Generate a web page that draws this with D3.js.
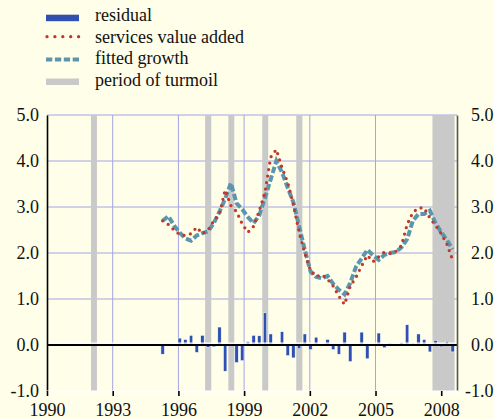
<!DOCTYPE html>
<html>
<head>
<meta charset="utf-8">
<script src="https://cdn.jsdelivr.net/npm/d3@7"></script>
<style>
  body { margin: 0; background: #fefee9; }
  text { font-family: "Liberation Serif", "Times New Roman", serif; }
</style>
</head>
<body>
<div id="chart"></div>
<script>
// ------------------------------------------------------------------------ //
// DATA
// ------------------------------------------------------------------------ //

// quarterly observations, 1995Q1 - 2007Q4
var quarters = d3.range(1995, 2008).flatMap(function(yr) {
  return [1, 2, 3, 4].map(function(q) { return yr + "Q" + q })
})

var residual = [-0.20, 0.00, -0.02, 0.15, 0.12, 0.21, -0.16, 0.21, -0.05, -0.04,
  0.39, -0.57, 0.00, -0.38, -0.34, 0.07, 0.21, 0.20, 0.70, 0.24,
  0.00, 0.29, -0.23, -0.28, -0.08, 0.24, -0.10, 0.17, 0.00, 0.12,
  -0.10, -0.20, 0.28, -0.36, 0.00, 0.28, -0.30, 0.00, 0.26, -0.06,
  0.04, 0.01, 0.05, 0.44, 0.04, 0.24, 0.12, -0.15, 0.10, -0.04,
  0.08, -0.15]

var servicesValueAdded = [2.70, 2.62, 2.50, 2.40, 2.38, 2.42, 2.56, 2.42, 2.50, 2.70,
  2.85, 3.37, 3.03, 2.90, 2.63, 2.45, 2.58, 2.92, 3.32, 4.08,
  4.25, 3.85, 3.53, 3.05, 2.45, 2.00, 1.62, 1.49, 1.53, 1.43,
  1.28, 1.06, 0.88, 1.28, 1.47, 1.72, 1.95, 1.81, 1.92, 2.02,
  1.99, 2.03, 2.16, 2.62, 2.88, 2.98, 2.98, 2.76, 2.60, 2.42,
  2.19, 1.85]

var fittedGrowth = [2.70, 2.80, 2.60, 2.44, 2.32, 2.27, 2.38, 2.43, 2.47, 2.65,
  2.90, 3.18, 3.52, 3.08, 2.95, 2.78, 2.65, 2.82, 3.20, 3.60,
  4.00, 3.75, 3.42, 3.10, 2.58, 2.07, 1.60, 1.48, 1.45, 1.50,
  1.33, 1.20, 1.10, 1.35, 1.70, 1.88, 2.07, 1.95, 1.85, 1.96,
  2.00, 2.02, 2.12, 2.30, 2.70, 2.85, 2.85, 2.92, 2.65, 2.45,
  2.28, 2.08]

// periods of turmoil (start, end) in years
var turmoil = [[1992.01, 1992.28], [1997.22, 1997.50], [1998.28, 1998.55],
  [1999.83, 2000.10], [2001.38, 2001.66], [2007.60, 2008.61]]

var yearTicks = [1990, 1993, 1996, 1999, 2002, 2005, 2008]
var valueTicks = [-1, 0, 1, 2, 3, 4, 5]
var gridValues = [1, 2, 3, 4, 5]
var gridYears = [1993, 1996, 1999, 2002, 2005]

// ------------------------------------------------------------------------ //
// SVG AREA
// ------------------------------------------------------------------------ //

var width = 494, height = 419
var bg = "#fefee9"

var svg = d3.select("#chart")
  .append("svg")
    .attr("width", width)
    .attr("height", height)

svg.append("rect")
  .attr("width", width)
  .attr("height", height)
  .attr("fill", bg)

// ------------------------------------------------------------------------ //
// SCALES
// ------------------------------------------------------------------------ //

var x = d3.scaleLinear()
  .domain([1990, 2008.72])
  .range([47, 457])

var y = d3.scaleLinear()
  .domain([-1, 5])
  .range([391, 115])

// the observations sit on their own category axis in the original chart
var xq = d3.scalePoint()
  .domain(quarters)
  .range([x(1995.28), x(2008.52)])

var blue = "#2f50b0", red = "#c0392b", teal = "#5b96ae", grey = "#c9c9c9"

// ------------------------------------------------------------------------ //
// GRID AND TURMOIL BANDS
// ------------------------------------------------------------------------ //

svg.append("g").selectAll("line")
  .data(gridValues)
  .join("line")
    .attr("x1", x.range()[0])
    .attr("x2", x.range()[1])
    .attr("y1", function(d) { return y(d) })
    .attr("y2", function(d) { return y(d) })
    .style("stroke", "#a4a4e4")
    .style("stroke-width", 1)

svg.append("g").selectAll("line")
  .data(gridYears)
  .join("line")
    .attr("x1", function(d) { return x(d) })
    .attr("x2", function(d) { return x(d) })
    .attr("y1", y(5))
    .attr("y2", y(-1))
    .style("stroke", "#a4a4e4")
    .style("stroke-width", 1)

svg.append("g").selectAll("rect")
  .data(turmoil)
  .join("rect")
    .attr("x", function(d) { return x(d[0]) })
    .attr("width", function(d) { return x(d[1]) - x(d[0]) })
    .attr("y", y(5))
    .attr("height", y(-1) - y(5))
    .attr("fill", grey)

// ------------------------------------------------------------------------ //
// RESIDUAL BARS
// ------------------------------------------------------------------------ //

svg.append("g").selectAll("rect")
  .data(residual)
  .join("rect")
    .attr("x", function(d, i) { return xq(quarters[i]) - 1.7 })
    .attr("width", 3.4)
    .attr("y", function(d) { return y(Math.max(0, d)) })
    .attr("height", function(d) { return Math.abs(y(d) - y(0)) })
    .attr("fill", blue)
    .style("stroke", "#ffffff")
    .style("stroke-width", 0.5)

// zero line
svg.append("line")
  .attr("x1", x.range()[0]).attr("x2", x.range()[1])
  .attr("y1", y(0) - 1.8).attr("y2", y(0) - 1.8)
  .style("stroke", "#ffffff").style("stroke-width", 1.2)
svg.append("line")
  .attr("x1", x.range()[0]).attr("x2", x.range()[1])
  .attr("y1", y(0)).attr("y2", y(0))
  .style("stroke", "#000").style("stroke-width", 2)

// ------------------------------------------------------------------------ //
// LINES
// ------------------------------------------------------------------------ //

var line = d3.line()
  .x(function(d, i) { return xq(quarters[i]) })
  .y(function(d) { return y(d) })

svg.append("path")
  .datum(fittedGrowth)
  .attr("d", line)
  .attr("fill", "none")
  .style("stroke", teal)
  .style("stroke-width", 4)
  .style("stroke-dasharray", "6.5 2.5")

svg.append("path")
  .datum(servicesValueAdded)
  .attr("d", line)
  .attr("fill", "none")
  .style("stroke", red)
  .style("stroke-width", 3.3)
  .style("stroke-linecap", "round")
  .style("stroke-dasharray", "0 6.6")

// ------------------------------------------------------------------------ //
// AXES
// ------------------------------------------------------------------------ //

var fmt = function(d) { return d.toFixed(1) }

var yLeft = svg.append("g")
  .attr("transform", "translate(" + x.range()[0] + ",0)")
  .call(d3.axisLeft(y).tickValues(valueTicks).tickFormat(fmt).tickSize(0).tickPadding(8))
yLeft.select(".domain").style("stroke", "#000").style("stroke-width", 1.6)

var yRight = svg.append("g")
  .attr("transform", "translate(" + x.range()[1] + ",0)")
  .call(d3.axisRight(y).tickValues(valueTicks).tickFormat(fmt).tickSize(0))
yRight.select(".domain").style("stroke", "#555").style("stroke-width", 1.6)
yRight.selectAll("text").attr("x", 36.5).attr("text-anchor", "end")

var xAxis = svg.append("g")
  .attr("transform", "translate(0," + y(-1) + ")")
  .call(d3.axisBottom(x).tickValues(yearTicks).tickFormat(d3.format("d")).tickSizeOuter(0).tickSize(5).tickPadding(7))
xAxis.select(".domain").style("stroke", "#ffffff").style("stroke-width", 2)
xAxis.selectAll(".tick line").style("stroke", "#000").style("stroke-width", 1.6)

svg.selectAll(".tick text")
  .attr("font-family", "'Liberation Serif', 'Times New Roman', serif")
  .attr("font-size", "18px")
  .attr("fill", "#111")

// ------------------------------------------------------------------------ //
// LEGEND
// ------------------------------------------------------------------------ //

var legendLabels = ["residual", "services value added", "fitted growth", "period of turmoil"]
var legendBase = [21, 42.5, 64, 85.5]

var legend = svg.append("g")

legend.selectAll("text")
  .data(legendLabels)
  .join("text")
    .attr("x", 95)
    .attr("y", function(d, i) { return legendBase[i] })
    .attr("font-size", "18px")
    .attr("fill", "#111")
    .text(function(d) { return d })

legend.append("rect")
  .attr("x", 46).attr("y", legendBase[0] - 6.3).attr("width", 33).attr("height", 6.5)
  .attr("fill", blue)
legend.append("line")
  .attr("x1", 47).attr("x2", 79).attr("y1", legendBase[1] - 5.8).attr("y2", legendBase[1] - 5.8)
  .style("stroke", red).style("stroke-width", 3.3)
  .style("stroke-linecap", "round").style("stroke-dasharray", "0 7.9")
legend.append("line")
  .attr("x1", 46).attr("x2", 80).attr("y1", legendBase[2] - 4.5).attr("y2", legendBase[2] - 4.5)
  .style("stroke", teal).style("stroke-width", 4).style("stroke-dasharray", "6.3 2.6")
legend.append("rect")
  .attr("x", 46).attr("y", legendBase[3] - 7).attr("width", 33).attr("height", 6.5)
  .attr("fill", grey)
</script>
</body>
</html>
